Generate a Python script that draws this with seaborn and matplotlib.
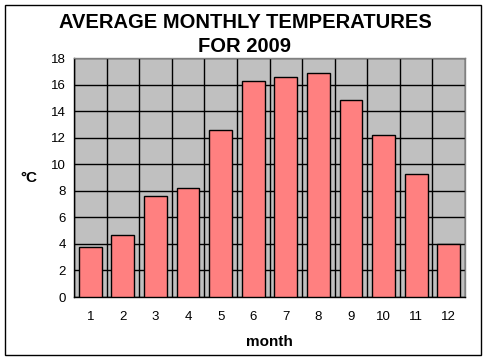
import matplotlib
matplotlib.use('Agg')
import matplotlib.pyplot as plt
import seaborn as sns
import pandas as pd
import numpy as np

months = ['1', '2', '3', '4', '5', '6', '7', '8', '9', '10', '11', '12']
temps = [3.8, 4.7, 7.6, 8.2, 12.6, 16.3, 16.6, 16.9, 14.8, 12.2, 9.3, 4.0]
yticks = [0, 2, 4, 6, 8, 10, 12, 14, 16, 18]

df = pd.DataFrame({'month': months, 'temp': temps})

sns.set_style('white')
plt.rcParams['font.family'] = ['Liberation Sans', 'DejaVu Sans']
plt.rcParams['text.color'] = 'black'
plt.rcParams['axes.labelcolor'] = 'black'
plt.rcParams['xtick.color'] = 'black'
plt.rcParams['ytick.color'] = 'black'

fig = plt.figure(figsize=(4.87, 3.61), dpi=100)
ax = fig.add_axes([74/487, 1-297/361, 391/487, 239/361])
ax.set_facecolor('#C0C0C0')

sns.barplot(data=df, x='month', y='temp', color='#FF8080', edgecolor='black',
            linewidth=1, width=0.7, saturation=1, ax=ax, zorder=3)

ax.set_xlim(-0.5, len(months) - 0.5)
ax.set_ylim(0, 18)
ax.set_yticks(yticks)
ax.set_xticks(np.arange(len(months)))
ax.set_xticklabels(months)
ax.set_xticks(np.arange(len(months) + 1) - 0.5, minor=True)

ax.grid(axis='y', color='black', linewidth=1, zorder=1)
ax.grid(axis='x', which='minor', color='black', linewidth=1, zorder=1)
ax.grid(axis='x', which='major', visible=False)
ax.set_axisbelow(True)

ax.tick_params(axis='x', which='major', length=0, labelsize=9.5, pad=10)
ax.tick_params(axis='x', which='minor', length=4, width=1, direction='out', color='black')
ax.tick_params(axis='y', length=4, width=1, direction='out', color='black', labelsize=9.5, pad=2)

for s in ['top', 'right']:
    ax.spines[s].set_color('#808080')
for s in ['left', 'bottom']:
    ax.spines[s].set_color('black')
for s in ax.spines.values():
    s.set_linewidth(1)

ax.set_xlabel('month', fontsize=11, fontweight='bold', labelpad=9)
ax.set_ylabel('°C', fontsize=11, fontweight='bold', rotation=0, labelpad=16, va='center')
fig.text(0.503, 1 - 22/361, 'AVERAGE MONTHLY TEMPERATURES', fontsize=14.5, fontweight='bold',
         ha='center', va='center')
fig.text(0.503, 1 - 47/361, 'FOR 2009', fontsize=14.5, fontweight='bold',
         ha='center', va='center')

fig.patches.append(plt.Rectangle((5/487, 6/361), 476/487, 350/361, transform=fig.transFigure,
                                 fill=False, edgecolor='black', linewidth=1))

fig.savefig('out.png', dpi=100, facecolor='white')
